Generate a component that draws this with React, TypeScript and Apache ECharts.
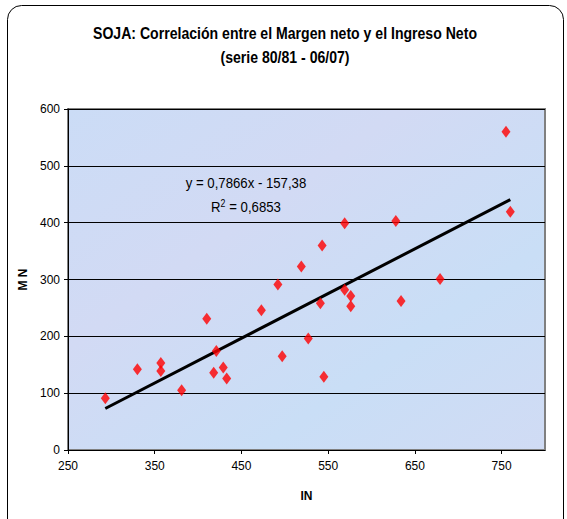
import React, { useEffect, useRef } from "react";
import * as echarts from "echarts";

const inValues = [293, 330, 357, 357, 381, 410, 418, 421, 429, 433, 473, 492, 497, 527, 545, 541, 569, 576, 576, 634, 755, 760, 569, 628, 543, 519, 679];
const mnValues = [91, 142, 153, 139, 105, 231, 136, 174, 145, 126, 246, 291, 165, 196, 129, 258, 282, 271, 253, 262, 560, 419, 399, 403, 360, 323, 301];
const xTicks = [250, 350, 450, 550, 650, 750];
const slope = 0.7866;
const intercept = -157.38;
const titleLines = ["SOJA: Correlación entre el Margen neto y el Ingreso Neto", "(serie 80/81 - 06/07)"];

const FONT = "'Liberation Sans Narrow', 'Arial Narrow', 'Liberation Sans', Arial, sans-serif";

export default function App() {
  const ref = useRef<HTMLDivElement>(null);
  useEffect(() => {
    if (!ref.current) return;
    const chart = echarts.init(ref.current, undefined, { renderer: "svg" });
    const points = inValues.map((v, i) => [v, mnValues[i]]);
    const xmin = Math.min(...inValues);
    const xmax = Math.max(...inValues);
    const trend = [
      [xmin, slope * xmin + intercept],
      [xmax, slope * xmax + intercept],
    ];
    const narrow = 0.88;
    chart.setOption({
      animation: false,
      backgroundColor: "#ffffff",
      grid: {
        left: 68,
        top: 109,
        right: 22,
        bottom: 69,
        show: true,
        backgroundColor: {
          type: "linear", x: 0, y: 0, x2: 1, y2: 1,
          colorStops: [
            { offset: 0, color: "#cbdcf6" },
            { offset: 0.35, color: "#d2daf4" },
            { offset: 0.7, color: "#c9def6" },
            { offset: 1, color: "#d0dbf4" },
          ],
        },
        borderColor: "#808080",
        borderWidth: 2,
      },
      xAxis: {
        type: "value",
        min: 250,
        max: 800,
        interval: 100,
        name: "IN",
        nameLocation: "middle",
        nameGap: 40,
        nameTextStyle: { fontFamily: FONT, fontSize: 12, fontWeight: "bold", color: "#000" },
        axisLine: { show: true, lineStyle: { color: "#000", width: 1 } },
        axisTick: { show: true, length: 4, lineStyle: { color: "#000" }, customValues: xTicks },
        axisLabel: { color: "#000", fontFamily: FONT, fontSize: 12, margin: 10, customValues: xTicks },
        splitLine: { show: false },
      },
      yAxis: {
        type: "value",
        min: 0,
        max: 600,
        interval: 100,
        name: "M N",
        nameLocation: "middle",
        nameGap: 29,
        nameRotate: 90,
        nameTextStyle: { fontFamily: FONT, fontSize: 12, fontWeight: "bold", color: "#000" },
        axisLine: { show: true, lineStyle: { color: "#000", width: 1 } },
        axisTick: { show: true, length: 4, lineStyle: { color: "#000" } },
        axisLabel: { color: "#000", fontFamily: FONT, fontSize: 12, margin: 8 },
        splitLine: { show: true, lineStyle: { color: "#000", width: 1 } },
      },
      series: [
        {
          type: "line",
          data: trend,
          symbol: "none",
          lineStyle: { color: "#000", width: 3 },
          z: 2,
        },
        {
          type: "scatter",
          data: points,
          symbol: "diamond",
          symbolSize: [9, 12],
          itemStyle: { color: "#ff0000" },
          z: 3,
        },
      ],
      graphic: [
        {
          type: "rect",
          shape: { x: 7.5, y: 5.5, width: 556, height: 540, r: 14 },
          style: { fill: "none", stroke: "#000", lineWidth: 1 },
          silent: true,
          z: 10,
        },
        {
          type: "text",
          x: 285,
          y: 33,
          scaleX: narrow,
          style: {
            text: titleLines[0],
            fontFamily: FONT,
            fontSize: 16,
            fontWeight: "bold",
            fill: "#000",
            textAlign: "center",
            textVerticalAlign: "middle",
          },
          z: 10,
        },
        {
          type: "text",
          x: 285,
          y: 57,
          scaleX: narrow,
          style: {
            text: titleLines[1],
            fontFamily: FONT,
            fontSize: 16,
            fontWeight: "bold",
            fill: "#000",
            textAlign: "center",
            textVerticalAlign: "middle",
          },
          z: 10,
        },
        {
          type: "text",
          x: 246,
          y: 183,
          scaleX: narrow,
          style: {
            text: "y = 0,7866x - 157,38",
            fontFamily: FONT,
            fontSize: 15,
            fill: "#000",
            textAlign: "center",
            textVerticalAlign: "middle",
          },
          z: 10,
        },
        {
          type: "text",
          x: 246,
          y: 207,
          scaleX: narrow,
          style: {
            text: "R{sup|2} = 0,6853",
            fontFamily: FONT,
            fontSize: 15,
            fill: "#000",
            textAlign: "center",
            textVerticalAlign: "middle",
            rich: {
              sup: { fontFamily: FONT, fontSize: 10, fill: "#000", verticalAlign: "top", padding: [0, 0, 8, 0] },
            },
          },
          z: 10,
        },
      ],
    });
    return () => chart.dispose();
  }, []);
  return <div ref={ref} style={{ position: "fixed", left: 0, top: 0, width: 567, height: 519 }} />;
}
